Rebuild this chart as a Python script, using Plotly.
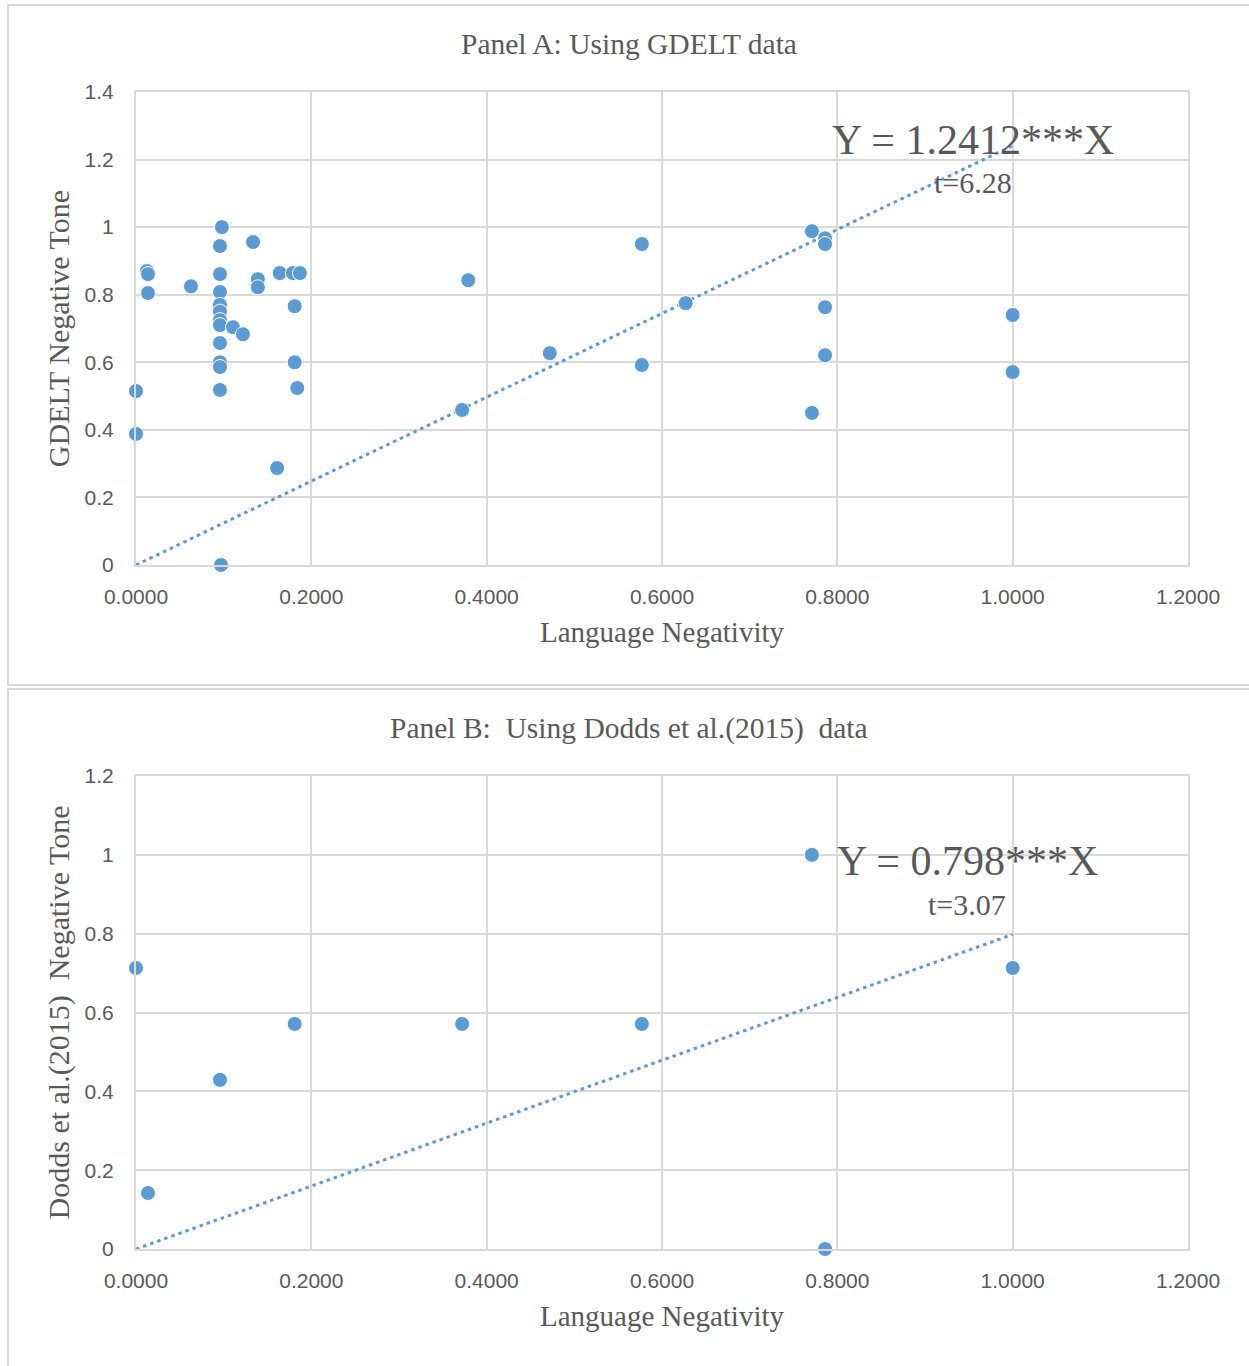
import plotly.graph_objects as go

# ---------------- data ----------------
# Panel A: GDELT
lang_neg_a = [0.0, 0.0, 0.0125, 0.0137, 0.0137, 0.0627, 0.098, 0.0958, 0.0958, 0.0958,
              0.0958, 0.0958, 0.0958, 0.0958, 0.1106, 0.122, 0.0958, 0.0958, 0.0958, 0.0958,
              0.097, 0.1335, 0.139, 0.139, 0.164, 0.179, 0.187, 0.181, 0.181, 0.184,
              0.161, 0.372, 0.379, 0.472, 0.577, 0.577, 0.627, 0.771, 0.786, 0.786,
              0.786, 0.786, 0.771, 1.0, 1.0]
gdelt_tone = [0.515, 0.388, 0.870, 0.861, 0.805, 0.825, 1.0, 0.944, 0.861, 0.808,
              0.770, 0.750, 0.725, 0.710, 0.704, 0.683, 0.657, 0.600, 0.586, 0.518,
              0.0, 0.956, 0.846, 0.822, 0.864, 0.864, 0.864, 0.766, 0.600, 0.524,
              0.287, 0.459, 0.843, 0.627, 0.950, 0.592, 0.775, 0.988, 0.967, 0.950,
              0.763, 0.621, 0.450, 0.740, 0.571]
slope_a = 1.2412

# Panel B: Dodds et al. (2015)
lang_neg_b = [0.0, 0.0137, 0.0958, 0.181, 0.372, 0.577, 0.771, 0.786, 1.0]
dodds_tone = [0.713, 0.142, 0.429, 0.571, 0.571, 0.571, 1.0, 0.0, 0.713]
slope_b = 0.798

trend_x = [0.0, 1.0]
x_ticks = [0.0, 0.2, 0.4, 0.6, 0.8, 1.0, 1.2]

# ---------------- styling ----------------
W, H = 1249, 1366
BLUE = "#5b9bd5"
GRID = "#d9d9d9"
TXT = "#595959"
SERIF = "Liberation Serif, Times New Roman, serif"
SANS = "Liberation Sans, Arial, sans-serif"


def px_x(p):
    return p / W


def px_y(p):
    return 1 - p / H


fig = go.Figure()

marker_style = dict(color=BLUE, size=15, line=dict(color="white", width=1))
trend_style = dict(color=BLUE, width=3, dash="3.5px,4px")

# Panel A
fig.add_trace(go.Scatter(x=trend_x, y=[slope_a * v for v in trend_x], mode="lines",
                         line=trend_style, xaxis="x", yaxis="y", showlegend=False,
                         cliponaxis=False))
fig.add_trace(go.Scatter(x=lang_neg_a, y=gdelt_tone, mode="markers", marker=marker_style,
                         xaxis="x", yaxis="y", showlegend=False, cliponaxis=False))
# Panel B
fig.add_trace(go.Scatter(x=trend_x, y=[slope_b * v for v in trend_x], mode="lines",
                         line=trend_style, xaxis="x2", yaxis="y2", showlegend=False,
                         cliponaxis=False))
fig.add_trace(go.Scatter(x=lang_neg_b, y=dodds_tone, mode="markers", marker=marker_style,
                         xaxis="x2", yaxis="y2", showlegend=False, cliponaxis=False))

xdom = [px_x(136), px_x(1188)]
common_x = dict(range=[0, 1.2], tickvals=x_ticks, tickformat=".4f",
                showgrid=True, gridcolor=GRID, gridwidth=2,
                showline=True, linecolor=GRID, linewidth=2, mirror=True,
                zeroline=False, ticks="", ticklabelstandoff=12, automargin=False,
                tickfont=dict(family=SANS, size=21, color=TXT),
                title=dict(text="Language Negativity", standoff=14,
                           font=dict(family=SERIF, size=29, color=TXT)))
common_y = dict(showgrid=True, gridcolor=GRID, gridwidth=2,
                showline=True, linecolor=GRID, linewidth=2, mirror=True,
                zeroline=False, ticks="", ticklabelstandoff=16, automargin=False,
                tickfont=dict(family=SANS, size=21, color=TXT))

fig.update_layout(
    width=W, height=H,
    margin=dict(l=0, r=0, t=0, b=0, autoexpand=False),
    paper_bgcolor="white", plot_bgcolor="white",
    xaxis=dict(domain=xdom, anchor="y", **common_x),
    yaxis=dict(domain=[px_y(565), px_y(92)], anchor="x", range=[0, 1.4], dtick=0.2,
               title=dict(text="GDELT Negative Tone", standoff=6,
                          font=dict(family=SERIF, size=30, color=TXT)),
               **common_y),
    xaxis2=dict(domain=xdom, anchor="y2", **common_x),
    yaxis2=dict(domain=[px_y(1249), px_y(776)], anchor="x2", range=[0, 1.2], dtick=0.2,
                title=dict(text="Dodds et al.(2015)\u00a0\u00a0Negative Tone", standoff=6,
                           font=dict(family=SERIF, size=30, color=TXT)),
                **common_y),
    shapes=[
        dict(type="rect", xref="paper", yref="paper",
             x0=px_x(8), x1=1.01, y0=px_y(685), y1=px_y(5),
             line=dict(color=GRID, width=2)),
        dict(type="rect", xref="paper", yref="paper",
             x0=px_x(8), x1=1.01, y0=px_y(1370), y1=px_y(689),
             line=dict(color=GRID, width=2)),
    ],
    annotations=[
        dict(text="Panel A: Using GDELT data", xref="paper", yref="paper",
             x=px_x(629), y=px_y(44), showarrow=False, xanchor="center", yanchor="middle",
             font=dict(family=SERIF, size=29.5, color=TXT)),
        dict(text="Panel B:\u00a0\u00a0Using Dodds et al.(2015)\u00a0\u00a0data", xref="paper", yref="paper",
             x=px_x(629), y=px_y(728), showarrow=False, xanchor="center", yanchor="middle",
             font=dict(family=SERIF, size=29.5, color=TXT)),
        dict(text="Y = 1.2412***X", xref="paper", yref="paper",
             x=px_x(973), y=px_y(140), showarrow=False, xanchor="center", yanchor="middle",
             font=dict(family=SERIF, size=42, color=TXT)),
        dict(text="t=6.28", xref="paper", yref="paper",
             x=px_x(1014), y=px_y(183), showarrow=False, xanchor="right", yanchor="middle",
             font=dict(family=SERIF, size=30, color=TXT)),
        dict(text="Y = 0.798***X", xref="paper", yref="paper",
             x=px_x(967), y=px_y(861), showarrow=False, xanchor="center", yanchor="middle",
             font=dict(family=SERIF, size=42, color=TXT)),
        dict(text="t=3.07", xref="paper", yref="paper",
             x=px_x(1008), y=px_y(904), showarrow=False, xanchor="right", yanchor="middle",
             font=dict(family=SERIF, size=30, color=TXT)),
    ],
)

fig.write_html("out.html", config={"displayModeBar": False},
               post_script="document.body.style.margin='0';document.body.style.overflow='hidden';")
